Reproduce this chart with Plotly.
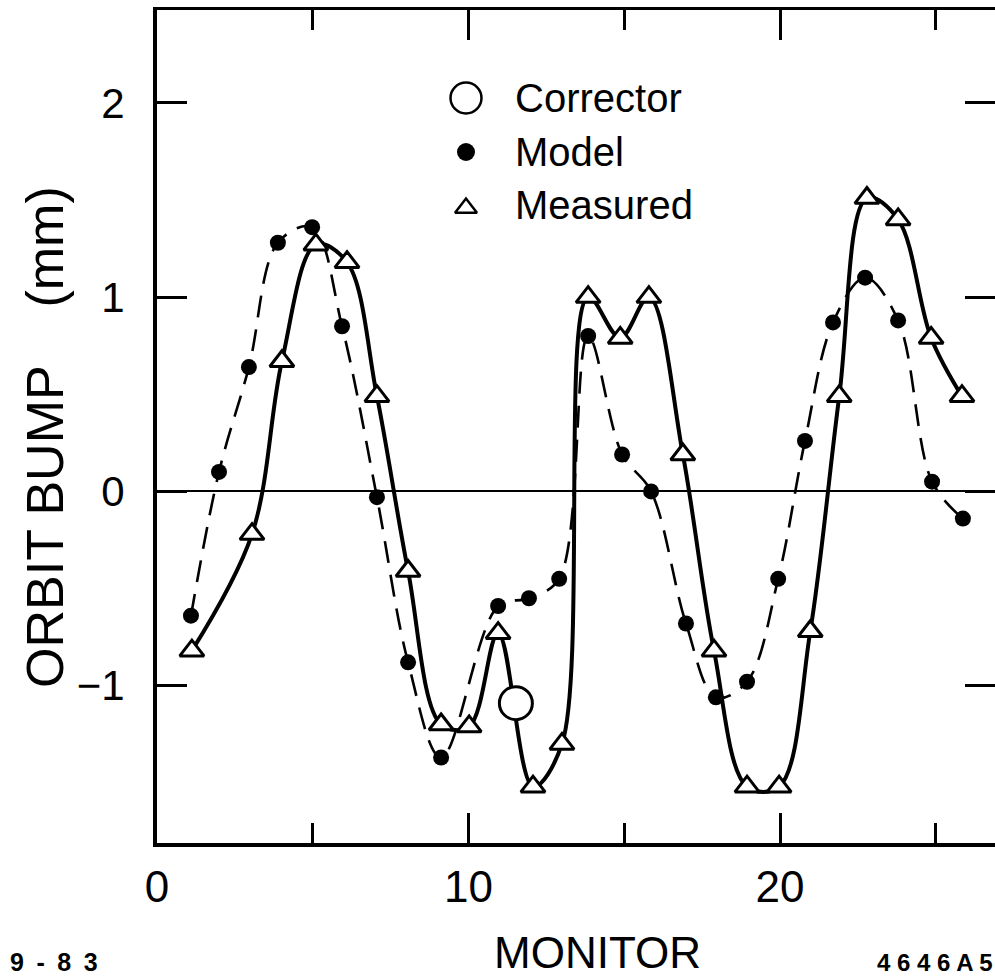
import plotly.graph_objects as go

# ---------------- data ----------------
model_x = [1.09, 1.99, 2.95, 3.88, 4.98, 5.94, 7.06, 8.06, 9.12, 10.95, 11.94, 12.91,
           13.84, 14.93, 15.86, 16.98, 17.94, 18.94, 19.94, 20.80, 21.70, 22.73, 23.79,
           24.88, 25.87]
model_y = [-0.64, 0.10, 0.64, 1.28, 1.36, 0.85, -0.03, -0.88, -1.37, -0.59, -0.55, -0.45,
           0.80, 0.19, 0.00, -0.68, -1.06, -0.98, -0.45, 0.26, 0.87, 1.10, 0.88,
           0.05, -0.14]

meas_x = [1.12, 3.05, 4.01, 5.10, 6.10, 7.06, 8.06, 9.12, 10.02, 10.95, 12.07, 13.00,
          13.84, 14.87, 15.79, 16.88, 17.88, 18.94, 19.97, 20.97, 21.90, 22.79, 23.79,
          24.85, 25.84]
meas_y = [-0.82, -0.22, 0.67, 1.27, 1.18, 0.49, -0.41, -1.20, -1.21, -0.73, -1.52, -1.30,
          1.00, 0.79, 1.00, 0.19, -0.82, -1.52, -1.52, -0.72, 0.49, 1.51, 1.40,
          0.79, 0.49]

corr_x = [11.52]
corr_y = [-1.09]

legend_labels = ["Corrector", "Model", "Measured"]
x_title = "MONITOR"
y_title = "ORBIT BUMP\u00a0\u00a0\u00a0\u00a0(mm)"
note_left = "9\u2002-\u20028\u20023"
note_right = "4 6 4 6 A 5"

# ---------------- layout constants ----------------
W, H = 995, 977
ML, MR, MT, MB = 157, 0, 10, 134
PW, PH = W - ML - MR, H - MT - MB
X_RANGE = [0, 26.9]
Y_RANGE = [-1.81, 2.478]
FONT = "Liberation Sans, Arial, Helvetica, sans-serif"


def px_x(px):
    return (px - ML) / PW


def px_y(py):
    return (H - MB - py) / PH


fig = go.Figure()

# Model: dashed smooth curve with filled dots
fig.add_trace(go.Scatter(
    x=model_x, y=model_y, mode="lines+markers",
    line=dict(color="black", width=2.6, dash="22px,12px", shape="spline", smoothing=1.0),
    marker=dict(symbol="circle", size=16, color="black"),
    showlegend=False, hoverinfo="skip"))

# Measured: solid smooth curve with open triangles
fig.add_trace(go.Scatter(
    x=meas_x, y=meas_y, mode="lines+markers",
    line=dict(color="black", width=4, shape="spline", smoothing=1.0),
    marker=dict(symbol="triangle-up", size=21, color="white",
                line=dict(color="black", width=3)),
    showlegend=False, hoverinfo="skip"))

# Corrector
fig.add_trace(go.Scatter(
    x=corr_x, y=corr_y, mode="markers",
    marker=dict(symbol="circle", size=33, color="white",
                line=dict(color="black", width=3)),
    showlegend=False, hoverinfo="skip"))

# dummy trace for mirrored (top / right) ticks
fig.add_trace(go.Scatter(x=[None], y=[None], xaxis="x2", yaxis="y2",
                         showlegend=False, hoverinfo="skip"))

# legend symbols on a hidden [0,1] overlay
LEG_SYM_X = px_x(466)
LEG_TXT_X = px_x(513)
LEG_ROWS_PY = [98, 152, 205]
leg_styles = [
    dict(symbol="circle", size=31, color="white", line=dict(color="black", width=2.5)),
    dict(symbol="circle", size=18, color="black"),
    dict(symbol="triangle-up", size=19, color="white", line=dict(color="black", width=2.5)),
]
for lab, py, st in zip(legend_labels, LEG_ROWS_PY, leg_styles):
    fig.add_trace(go.Scatter(x=[LEG_SYM_X], y=[px_y(py + (3 if st["symbol"] == "triangle-up" else 0))],
                             xaxis="x3", yaxis="y3", mode="markers", marker=st,
                             showlegend=False, hoverinfo="skip"))
    fig.add_annotation(x=LEG_TXT_X, y=px_y(py), xref="paper", yref="paper",
                       text=lab, showarrow=False, xanchor="left", yanchor="middle",
                       font=dict(size=40, family=FONT, color="black"))

# axis titles and notes
fig.add_annotation(x=px_x(597), y=px_y(953), xref="paper", yref="paper", text=x_title,
                   showarrow=False, xanchor="center", yanchor="middle",
                   font=dict(size=44, family=FONT, color="black"))
fig.add_annotation(x=px_x(45), y=px_y(437), xref="paper", yref="paper", text=y_title,
                   showarrow=False, xanchor="center", yanchor="middle", textangle=-90,
                   font=dict(size=52, family=FONT, color="black"))
fig.add_annotation(x=px_x(8), y=px_y(962), xref="paper", yref="paper", text=note_left,
                   showarrow=False, xanchor="left", yanchor="middle",
                   font=dict(size=25, family="Liberation Sans, Arial", color="black", weight="bold"))
fig.add_annotation(x=px_x(995), y=px_y(962), xref="paper", yref="paper", text=note_right,
                   showarrow=False, xanchor="right", yanchor="middle",
                   font=dict(size=24, family="Liberation Sans, Arial", color="black", weight="bold"))

tickfont = dict(size=44, family=FONT, color="black")

fig.update_layout(
    width=W, height=H,
    margin=dict(l=ML, r=MR, t=MT, b=MB, pad=0),
    paper_bgcolor="white", plot_bgcolor="white",
    showlegend=False,
    font=dict(family=FONT, color="black"),
    xaxis=dict(range=X_RANGE, showgrid=False, zeroline=False,
               showline=True, linewidth=3.5, linecolor="black",
               ticks="inside", ticklen=30, tickwidth=3, tickcolor="black",
               tick0=0, dtick=10, tickfont=tickfont, ticklabelstandoff=2,
               minor=dict(dtick=5, tick0=0, ticks="inside", ticklen=20,
                          tickwidth=3, tickcolor="black")),
    yaxis=dict(range=Y_RANGE, showgrid=False,
               zeroline=True, zerolinewidth=2, zerolinecolor="black",
               showline=True, linewidth=4, linecolor="black",
               ticks="inside", ticklen=30, tickwidth=3, tickcolor="black",
               tick0=0, dtick=1, tickfont=dict(size=42, family=FONT, color="black"),
               ticklabelstandoff=20),
    xaxis2=dict(overlaying="x", side="top", anchor="y2", range=X_RANGE,
                showgrid=False, zeroline=False, showline=True, linewidth=3,
                linecolor="black", ticks="inside", ticklen=30, tickwidth=3,
                tickcolor="black", tick0=0, dtick=10, showticklabels=False,
                minor=dict(dtick=5, tick0=0, ticks="inside", ticklen=20,
                           tickwidth=3, tickcolor="black")),
    yaxis2=dict(overlaying="y", side="right", anchor="x2", range=Y_RANGE,
                showgrid=False, zeroline=False, showline=False,
                ticks="inside", ticklen=30, tickwidth=3, tickcolor="black",
                tick0=0, dtick=1, showticklabels=False),
    xaxis3=dict(overlaying="x", anchor="y3", range=[0, 1], visible=False),
    yaxis3=dict(overlaying="y", anchor="x3", range=[0, 1], visible=False),
)

fig.write_html("out.html")
